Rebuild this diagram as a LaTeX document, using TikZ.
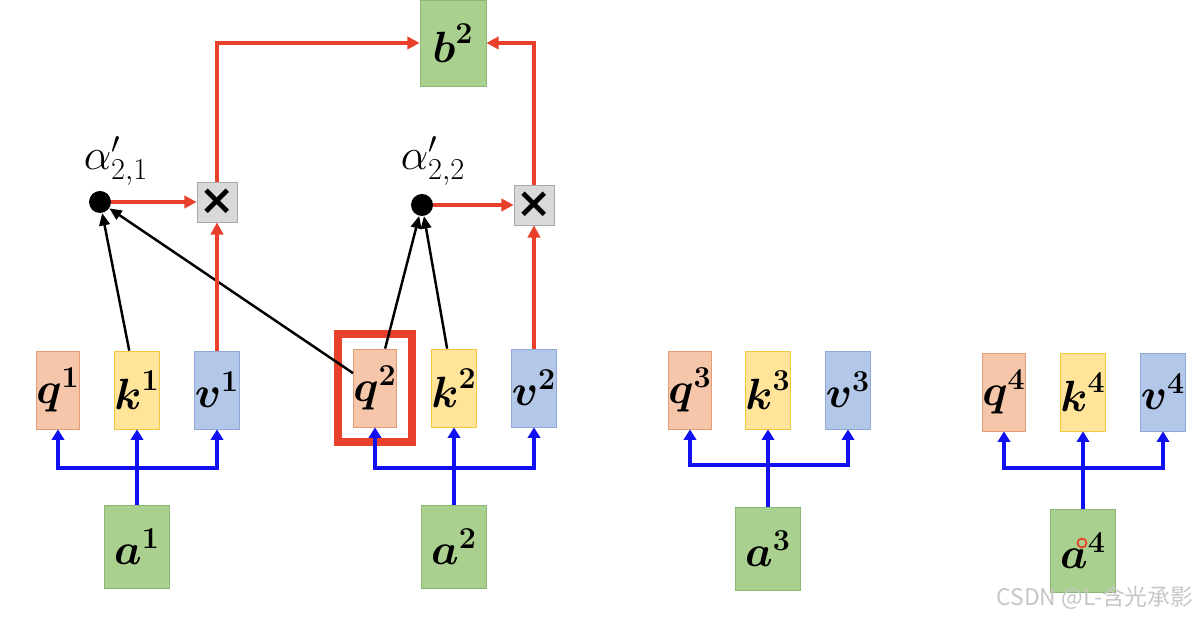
\documentclass[tikz,border=0pt]{standalone}
\usepackage{amsmath,amssymb}
\usepackage{fontspec}
\newfontfamily\cjkfont{Noto Sans CJK SC}
\newfontfamily\symfont{DejaVu Sans}
\usepackage{tikz}
\usetikzlibrary{arrows.meta, positioning, fit}

\definecolor{qfill}{HTML}{F6C6AA}
\definecolor{qdraw}{HTML}{E39C78}
\definecolor{kfill}{HTML}{FFE49A}
\definecolor{kdraw}{HTML}{F2C744}
\definecolor{vfill}{HTML}{B3C8E8}
\definecolor{vdraw}{HTML}{8EA9D8}
\definecolor{gfill}{HTML}{A9D08E}
\definecolor{gdraw}{HTML}{8AB874}
\definecolor{mfill}{HTML}{D9D9D9}
\definecolor{mdraw}{HTML}{A8A8A8}
\definecolor{attnred}{HTML}{E8402A}
\definecolor{busblue}{HTML}{1010F0}

\newcommand{\vlbl}[2]{$\boldsymbol{#1}^{\boldsymbol{#2}}$}

\begin{document}
\begin{tikzpicture}[
    font=\fontsize{25}{30}\selectfont,
    vec/.style={inner sep=0pt, minimum width=0.8cm, minimum height=1.56cm},
    qbox/.style={vec, draw=qdraw, fill=qfill},
    kbox/.style={vec, draw=kdraw, fill=kfill},
    vbox/.style={vec, draw=vdraw, fill=vfill},
    inbox/.style={draw=gdraw, fill=gfill, inner sep=0pt, minimum width=1.3cm, minimum height=1.66cm},
    outbox/.style={draw=gdraw, fill=gfill, inner sep=0pt, minimum width=1.32cm, minimum height=1.72cm},
    mulbox/.style={draw=mdraw, fill=mfill, inner sep=0pt, minimum size=0.8cm, font=\symfont\bfseries\fontsize{24}{24}\selectfont},
    dot/.style={circle, fill=black, inner sep=0pt, minimum size=0.44cm},
    weight/.style={font=\fontsize{23}{26}\selectfont},
    bus/.style={-{Triangle[width=7pt, length=6pt]}, line width=2pt, busblue},
    redarrow/.style={-{Triangle[width=7pt, length=7pt]}, line width=1.8pt, attnred},
    attn/.style={-{Triangle[width=6pt, length=7pt]}, line width=1.4pt, black}
]
\useasboundingbox (0,0) rectangle (24,12.36);

% output
\node[outbox] (b2) at (9.06, 11.5) {\vlbl{b}{2}};

% weights and products
\node[dot] (dot1) at (2.0, 8.32) {};
\node[dot] (dot2) at (8.44, 8.26) {};
\node[weight] (w21) at (2.32, 9.14) {$\alpha'_{2,1}$};
\node[weight] (w22) at (8.66, 9.14) {$\alpha'_{2,2}$};
\node[mulbox] (mul1) at (4.34, 8.32) {×};
\node[mulbox] (mul2) at (10.68, 8.26) {×};

% q, k, v
\node[qbox] (q1) at (1.16, 4.56) {\vlbl{q}{1}};
\node[kbox] (k1) at (2.74, 4.56) {\vlbl{k}{1}};
\node[vbox] (v1) at (4.34, 4.56) {\vlbl{v}{1}};
\node[qbox] (q2) at (7.5, 4.6) {\vlbl{q}{2}};
\node[kbox] (k2) at (9.08, 4.6) {\vlbl{k}{2}};
\node[vbox] (v2) at (10.68, 4.6) {\vlbl{v}{2}};
\node[qbox] (q3) at (13.8, 4.56) {\vlbl{q}{3}};
\node[kbox] (k3) at (15.36, 4.56) {\vlbl{k}{3}};
\node[vbox] (v3) at (16.96, 4.56) {\vlbl{v}{3}};
\node[qbox] (q4) at (20.08, 4.52) {\vlbl{q}{4}};
\node[kbox] (k4) at (21.66, 4.52) {\vlbl{k}{4}};
\node[vbox] (v4) at (23.26, 4.52) {\vlbl{v}{4}};

\node[draw=attnred, line width=4.5pt, inner sep=0.3cm, fit=(q2)] (sel) {};

% inputs
\node[inbox] (a1) at (2.74, 1.42) {\vlbl{a}{1}};
\node[inbox] (a2) at (9.08, 1.42) {\vlbl{a}{2}};
\node[inbox] (a3) at (15.36, 1.38) {\vlbl{a}{3}};
\node[inbox] (a4) at (21.66, 1.34) {\vlbl{a}{4}};
\draw[attnred, line width=1pt] (21.64, 1.5) circle (0.09);

\coordinate (j1) at (2.74, 3.0);
\coordinate (j2) at (9.08, 3.0);
\coordinate (j3) at (15.36, 3.06);
\coordinate (j4) at (21.66, 3.0);

\draw[bus] (a1) -- (k1);
\draw[bus] (j1) -| (q1);
\draw[bus] (j1) -| (v1);
\draw[bus] (a2) -- (k2);
\draw[bus] (j2) -| (q2);
\draw[bus] (j2) -| (v2);
\draw[bus] (a3) -- (k3);
\draw[bus] (j3) -| (q3);
\draw[bus] (j3) -| (v3);
\draw[bus] (a4) -- (k4);
\draw[bus] (j4) -| (q4);
\draw[bus] (j4) -| (v4);

\draw[attn] (k1) -- (dot1);
\draw[attn] (q2) -- (dot1);
\draw[attn] (q2) -- (dot2);
\draw[attn] (k2) -- (dot2);

\draw[redarrow] (dot1) -- (mul1);
\draw[redarrow] (dot2) -- (mul2);
\draw[redarrow] (v1) -- (mul1);
\draw[redarrow] (v2) -- (mul2);
\draw[redarrow] (mul1) |- (b2);
\draw[redarrow] (mul2) |- (b2);

\node[font=\cjkfont\fontsize{13}{15}\selectfont, text=gray!45] (mark) at (21.9, 0.4) {CSDN @L-含光承影};

\end{tikzpicture}
\end{document}
